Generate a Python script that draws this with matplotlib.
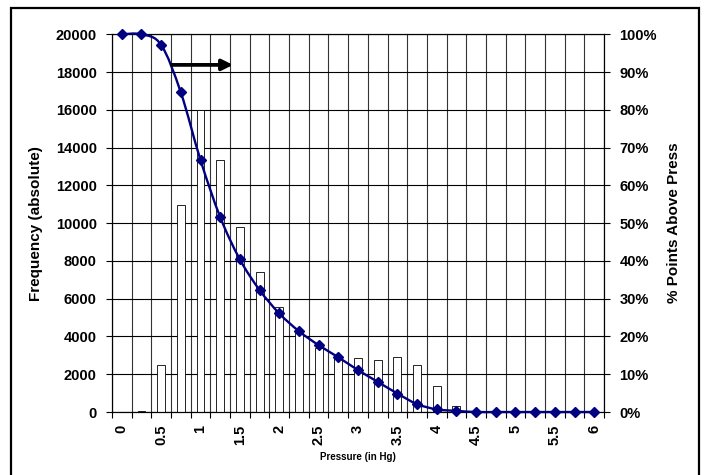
import numpy as np
import matplotlib.pyplot as plt
from matplotlib.path import Path
from matplotlib.patches import PathPatch, Rectangle

plt.rcParams['font.family'] = ['Liberation Sans', 'DejaVu Sans']
plt.rcParams['font.weight'] = 'bold'

# Pressure classes (in Hg) and readings
pressure = [0, 0.25, 0.5, 0.75, 1, 1.25, 1.5, 1.75, 2, 2.25, 2.5, 2.75, 3,
            3.25, 3.5, 3.75, 4, 4.25, 4.5, 4.75, 5, 5.25, 5.5, 5.75, 6]
frequency = [20, 70, 2490, 10970, 16000, 13360, 9770, 7400, 5550, 4170, 3370,
             2900, 2840, 2750, 2930, 2490, 1380, 330, 0, 0, 0, 0, 0, 0, 0]
pct_above = [100, 100, 97.2, 84.6, 66.7, 51.6, 40.4, 32.3, 26.1, 21.4, 17.7,
             14.5, 11.1, 8.0, 4.9, 2.1, 0.7, 0.3, 0, 0, 0, 0, 0, 0, 0]
left_ticks = [0, 2000, 4000, 6000, 8000, 10000, 12000, 14000, 16000, 18000, 20000]
right_ticks = [0, 10, 20, 30, 40, 50, 60, 70, 80, 90, 100]

idx = np.arange(len(pressure))
tick_fs = 10.5
label_fs = 11

fig = plt.figure(figsize=(7.04, 4.75), dpi=100)
ax = fig.add_axes([0.159, 0.1326, 0.699, 0.7952])
ax2 = ax.twinx()

# bars (histogram)
ax.bar(idx, frequency, width=0.4, color='white', edgecolor='black',
       linewidth=0.6, zorder=2)
ax.set_ylim(0, 20000)
ax.set_xlim(-0.5, len(pressure) - 0.5)
ax.set_yticks(left_ticks)
ax.set_yticklabels([str(v) for v in left_ticks], fontsize=tick_fs,
                   fontweight='bold')

# category ticks between classes, labels on every other class
ax.set_xticks(np.arange(-0.5, len(pressure), 1))
ax.set_xticklabels([])
ax.set_xticks(idx[::2], minor=True)
ax.set_xticklabels([('%g' % p) for p in pressure[::2]], minor=True,
                   rotation=90, fontsize=tick_fs, fontweight='bold')
ax.tick_params(axis='x', which='major', direction='out', length=4, width=0.8)
ax.tick_params(axis='x', which='minor', length=0, pad=9)
ax.tick_params(axis='y', direction='out', length=4, width=0.8, pad=7)

ax.grid(axis='y', color='black', linewidth=0.8, zorder=0)
ax.grid(axis='x', which='major', color='#333333', linewidth=0.8, zorder=0)
ax.set_axisbelow(True)

ax.set_ylabel('Frequency (absolute)', fontsize=label_fs, fontweight='bold')
ax.yaxis.set_label_coords(-0.140, 0.5)
ax.set_xlabel('Pressure (in Hg)', fontsize=7, fontweight='bold')
ax.xaxis.set_label_coords(0.5, -0.107)

# smoothed cumulative line on right axis
ax2.set_ylim(0, 100)
ax2.set_yticks(right_ticks)
ax2.set_yticklabels(['%d%%' % v for v in right_ticks], fontsize=tick_fs,
                    fontweight='bold')
ax2.tick_params(axis='y', direction='out', length=4, width=0.8, pad=7)
ax2.set_ylabel('% Points Above Press', fontsize=label_fs, fontweight='bold',
               rotation=90)
ax2.yaxis.set_label_coords(1.128, 0.5)

pts = np.column_stack([idx, pct_above]).astype(float)
verts = [pts[0]]
codes = [Path.MOVETO]
n = len(pts)
for i in range(n - 1):
    p0 = pts[max(i - 1, 0)]
    p1 = pts[i]
    p2 = pts[i + 1]
    p3 = pts[min(i + 2, n - 1)]
    c1 = p1 + (p2 - p0) / 6.0
    c2 = p2 - (p3 - p1) / 6.0
    verts += [c1, c2, p2]
    codes += [Path.CURVE4] * 3
ax2.add_patch(PathPatch(Path(verts, codes), facecolor='none',
                        edgecolor='#000080', linewidth=1.7, zorder=3,
                        clip_on=False))
ax2.plot(idx, pct_above, linestyle='none', marker='D', markersize=5,
         color='#000080', zorder=4, clip_on=False)

ax2.annotate('', xy=(5.65, 91.9), xytext=(2.55, 91.9),
             arrowprops=dict(arrowstyle='-|>', lw=2.7, color='black',
                             mutation_scale=16, shrinkA=0, shrinkB=0))

for a in (ax, ax2):
    for s in a.spines.values():
        s.set_linewidth(0.8)

# outer chart border
fig.patches.append(Rectangle((11 / 704, -0.1), 688 / 704, 1.1 - 8 / 475,
                             transform=fig.transFigure, fill=False,
                             edgecolor='black', linewidth=1.6))

plt.savefig('out.png', dpi=100)
